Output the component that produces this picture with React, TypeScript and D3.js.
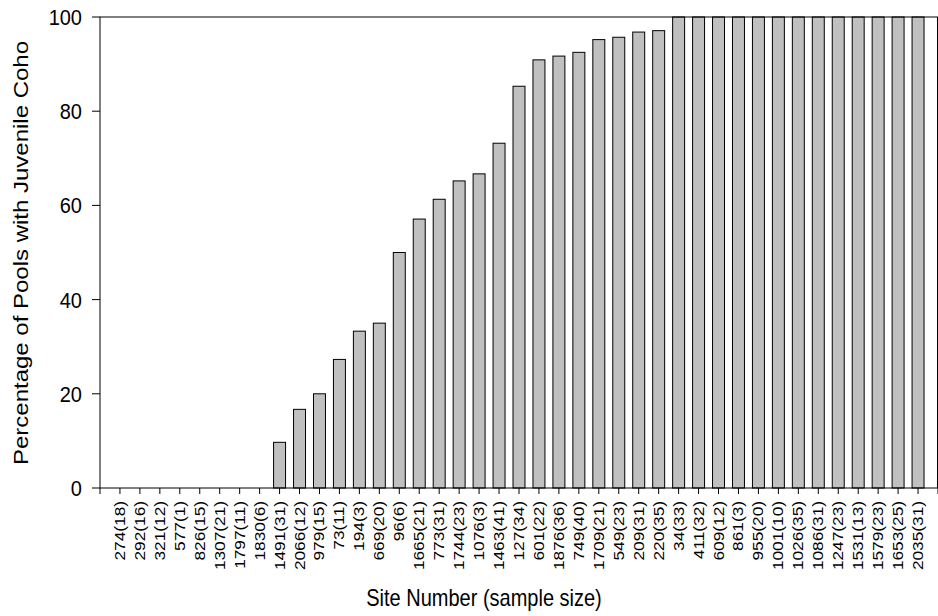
import React from "react";
import * as d3 from "d3";

// Site labels: site number with the number of pools sampled in parentheses
const sites = [
  "274(18)", "292(16)", "321(12)", "577(1)", "826(15)", "1307(21)", "1797(11)", "1830(6)",
  "1491(31)", "2066(12)", "979(15)", "73(11)", "194(3)", "669(20)", "96(6)", "1665(21)",
  "773(31)", "1744(23)", "1076(3)", "1463(41)", "127(34)", "601(22)", "1876(36)", "749(40)",
  "1709(21)", "549(23)", "209(31)", "220(35)", "34(33)", "411(32)", "609(12)", "861(3)",
  "955(20)", "1001(10)", "1026(35)", "1086(31)", "1247(23)", "1531(13)", "1579(23)",
  "1653(25)", "2035(31)",
];

// Percentage of pools at each site holding juvenile coho
const percentPools = [
  0, 0, 0, 0, 0, 0, 0, 0,
  9.7, 16.7, 20, 27.3, 33.3, 35, 50, 57.1,
  61.3, 65.2, 66.7, 73.2, 85.3, 90.9, 91.7, 92.5,
  95.2, 95.7, 96.8, 97.1, 100, 100, 100, 100,
  100, 100, 100, 100, 100, 100, 100, 100, 100,
];

const yTicks = [0, 20, 40, 60, 80, 100];

const WIDTH = 938;
const HEIGHT = 616;
const PLOT = { left: 100, right: 938, top: 17, bottom: 488 };
const FONT = "'Liberation Sans', Arial, Helvetica, sans-serif";
const TEXT_STRETCH = 1.2;

export default function App() {
  const x = d3
    .scaleLinear()
    .domain([-1, sites.length])
    .range([PLOT.left, PLOT.right]);
  const y = d3.scaleLinear().domain([0, 100]).range([PLOT.bottom, PLOT.top]);
  const barWidth = (x(1) - x(0)) * 0.6;
  const xTickPositions = d3.range(-1, sites.length + 1);

  return (
    <svg
      width={WIDTH}
      height={HEIGHT}
      style={{ position: "absolute", left: 0, top: 0, display: "block", background: "#fff" }}
      fontFamily={FONT}
    >
      {/* bars */}
      <g>
        {percentPools.map((v, i) => (
          <rect
            key={sites[i]}
            x={x(i) - barWidth / 2}
            y={y(v)}
            width={barWidth}
            height={y(0) - y(v)}
            fill="#c0c0c0"
            stroke="#000"
            strokeWidth={1}
          />
        ))}
      </g>

      {/* frame */}
      <rect
        x={PLOT.left}
        y={PLOT.top}
        width={PLOT.right - PLOT.left - 0.5}
        height={PLOT.bottom - PLOT.top}
        fill="none"
        stroke="#000"
        strokeWidth={1}
      />

      {/* y axis ticks and labels */}
      <g>
        {yTicks.map((t) => (
          <g key={t}>
            <line x1={PLOT.left - 8} x2={PLOT.left} y1={y(t)} y2={y(t)} stroke="#000" />
            <text
              transform={`translate(${PLOT.left - 18}, ${y(t)}) scale(1, 1.1)`}
              dy="0.36em"
              textAnchor="end"
              fontSize={20}
              fill="#000"
            >
              {t}
            </text>
          </g>
        ))}
      </g>

      {/* x axis ticks */}
      <g>
        {xTickPositions.map((i) => (
          <line
            key={i}
            x1={x(i)}
            x2={x(i)}
            y1={PLOT.bottom}
            y2={PLOT.bottom + 6}
            stroke="#000"
          />
        ))}
      </g>

      {/* site labels */}
      <g>
        {sites.map((s, i) => (
          <text
            key={s}
            transform={`translate(${x(i) + 5}, ${PLOT.bottom + 13}) rotate(-90) scale(${TEXT_STRETCH}, 1)`}
            textAnchor="end"
            fontSize={14.4}
            fill="#000"
          >
            {s}
          </text>
        ))}
      </g>

      {/* axis titles */}
      <text
        transform={`translate(484, 606) scale(1, ${TEXT_STRETCH})`}
        textAnchor="middle"
        fontSize={20}
        fill="#000"
      >
        Site Number (sample size)
      </text>
      <text
        transform={`translate(28, 253) rotate(-90) scale(${TEXT_STRETCH}, 1)`}
        textAnchor="middle"
        fontSize={20}
        fill="#000"
      >
        Percentage of Pools with Juvenile Coho
      </text>
    </svg>
  );
}
